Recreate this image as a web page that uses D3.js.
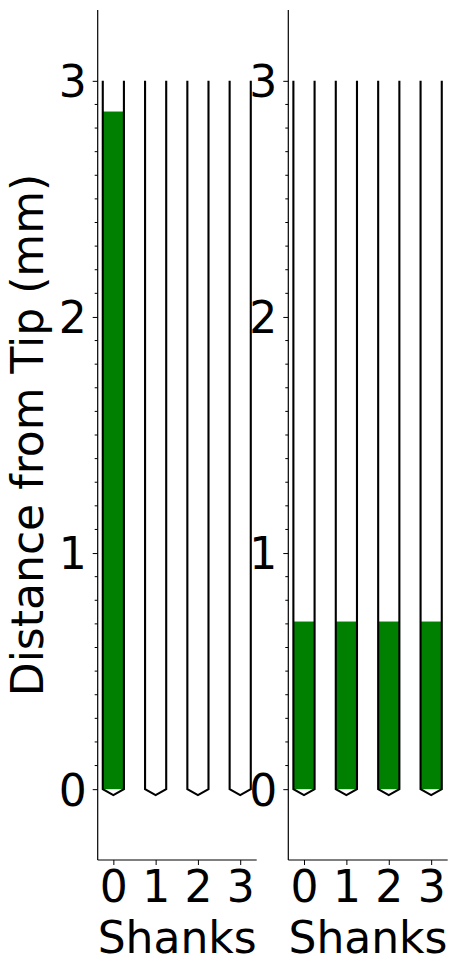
<!DOCTYPE html>
<html>
<head>
<meta charset="utf-8">
<script src="https://cdnjs.cloudflare.com/ajax/libs/d3/7.8.5/d3.min.js"></script>
<style>
body { margin: 0; background: #fff; }
text { font-family: "DejaVu Sans", sans-serif; fill: #000; }
</style>
</head>
<body>
<div id="chart"></div>
<script>
// probe layout
var shanks = [0, 1, 2, 3],
	probeLength = 3,
	tipDepth = 0.025,
	shankWidth = 0.5

// filled extent (mm from tip) per shank, one list per panel
var leftFill = [2.87, 0, 0, 0],
	rightFill = [0.71, 0.71, 0.71, 0.71]

var yMajorTicks = [0, 1, 2, 3],
	yMinorTicks = d3.range(1, 30).map(function(d) { return d / 10 }).filter(function(d) { return Math.abs(d - Math.round(d)) > 1e-6 })

var width = 456,
	height = 971,
	fontSize = 44

var svg = d3.select('#chart').append('svg')
	.attr('width', width)
	.attr('height', height)

var y = d3.scaleLinear()
	.domain([-0.3, 3.3])
	.range([860, 10])

var panels = [
	{fill: leftFill, left: 97.7, right: 256.7},
	{fill: rightFill, left: 288.3, right: 447.7}
]

panels.forEach(function(p) {
	var x = d3.scaleLinear()
		.domain([-0.37, 3.39])
		.range([p.left, p.right])

	var g = svg.append('g')

	// green fill
	g.selectAll('rect.fill')
		.data(shanks.filter(function(s) { return p.fill[s] > 0 }))
		.enter().append('rect')
		.attr('class', 'fill')
		.attr('x', function(s) { return x(s - shankWidth / 2) })
		.attr('width', function(s) { return x(s + shankWidth / 2) - x(s - shankWidth / 2) })
		.attr('y', function(s) { return y(p.fill[s]) })
		.attr('height', function(s) { return y(0) - y(p.fill[s]) })
		.attr('fill', 'green')

	// shank outlines
	var line = d3.line()
		.x(function(d) { return x(d[0]) })
		.y(function(d) { return y(d[1]) })

	g.selectAll('path.shank')
		.data(shanks)
		.enter().append('path')
		.attr('class', 'shank')
		.attr('d', function(s) {
			return line([
				[s - shankWidth / 2, probeLength],
				[s - shankWidth / 2, 0],
				[s, -tipDepth],
				[s + shankWidth / 2, 0],
				[s + shankWidth / 2, probeLength]
			])
		})
		.attr('fill', 'none')
		.attr('stroke', '#000')
		.attr('stroke-width', 2.1)

	// y axis
	var yAxis = g.append('g')
		.attr('transform', 'translate(' + p.left + ',0)')
		.call(d3.axisLeft(y).tickValues(yMajorTicks).tickFormat(d3.format('d')).tickSize(5).tickPadding(6))
	yAxis.selectAll('g.minor')
		.data(yMinorTicks)
		.enter().append('line')
		.attr('x1', -3)
		.attr('x2', 0)
		.attr('y1', function(d) { return y(d) })
		.attr('y2', function(d) { return y(d) })
		.attr('stroke', '#000')
		.attr('stroke-width', 1)
	yAxis.select('.domain').attr('d', 'M0,' + y.range()[0] + 'V' + y.range()[1]).attr('stroke-width', 1.2)
	yAxis.selectAll('text').style('font-size', fontSize + 'px').attr('dy', '0.36em')

	// x axis
	var xAxis = g.append('g')
		.attr('transform', 'translate(0,' + y.range()[0] + ')')
		.call(d3.axisBottom(x).tickValues(shanks).tickFormat(d3.format('d')).tickSize(5).tickPadding(6))
	xAxis.select('.domain').attr('d', 'M' + p.left + ',0H' + p.right).attr('stroke-width', 1.2)
	xAxis.selectAll('text').style('font-size', fontSize + 'px')

	g.append('text')
		.attr('x', (p.left + p.right) / 2)
		.attr('y', 953)
		.attr('text-anchor', 'middle')
		.style('font-size', fontSize + 'px')
		.text('Shanks')
})

svg.append('text')
	.attr('transform', 'translate(43,' + (y.range()[0] + y.range()[1]) / 2 + ') rotate(-90)')
	.attr('text-anchor', 'middle')
	.style('font-size', fontSize + 'px')
	.text('Distance from Tip (mm)')
</script>
</body>
</html>
